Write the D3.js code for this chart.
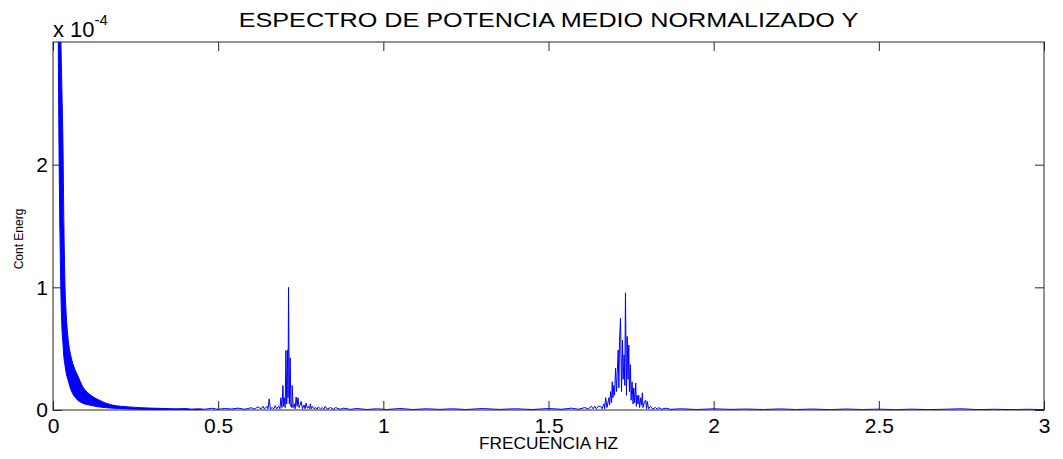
<!DOCTYPE html>
<html>
<head>
<meta charset="utf-8">
<script src="https://cdn.jsdelivr.net/npm/d3@7"></script>
<style>
  html, body { margin: 0; padding: 0; background: #fff; }
  svg { display: block; font-family: "Liberation Sans", Arial, sans-serif; }
</style>
</head>
<body>
<svg id="chart" width="1063" height="459"></svg>
<script>
// Power values are in units of 1e-4 (see the axis multiplier).

// Low-frequency decay: the spectrum oscillates densely between these two envelopes.
const decayFreq  = [0.016, 0.018, 0.021, 0.024, 0.027, 0.030, 0.033, 0.036, 0.040, 0.045, 0.055, 0.065, 0.075, 0.090, 0.110, 0.140, 0.180, 0.230, 0.290, 0.360, 0.450];
const decayUpper = [4.5, 4.0, 3.5, 3.0, 2.6, 2.2, 1.5, 1.05, 0.78, 0.60, 0.43, 0.34, 0.28, 0.19, 0.13, 0.08, 0.04, 0.025, 0.016, 0.010, 0.004];
const decayLower = [3.0, 2.2, 1.47, 0.95, 0.67, 0.55, 0.43, 0.37, 0.30, 0.25, 0.16, 0.11, 0.08, 0.055, 0.04, 0.025, 0.015, 0.008, 0.004, 0.002, 0.001];

// Spectrum beyond the decay: frequency (Hz) and power.
const freqHz = [
  0.30, 0.32, 0.34, 0.36, 0.38, 0.40, 0.42, 0.44, 0.46, 0.48, 0.50, 0.52, 0.54, 0.56, 0.58, 0.60, 0.61, 0.62, 0.63, 0.636,
  0.640, 0.6476, 0.651, 0.6545, 0.658, 0.664, 0.668, 0.6727, 0.677, 0.683, 0.687, 0.690, 0.693, 0.696, 0.698, 0.700,
  0.703, 0.705, 0.7075, 0.710, 0.7115, 0.713, 0.7155, 0.718, 0.720, 0.722, 0.723, 0.724, 0.727, 0.731, 0.733, 0.736,
  0.739, 0.7415, 0.745, 0.748, 0.7515, 0.755, 0.760, 0.763, 0.766, 0.770, 0.774, 0.777, 0.779, 0.782, 0.785, 0.790,
  0.795, 0.800, 0.803, 0.810, 0.815, 0.820, 0.824, 0.830, 0.840, 0.850, 0.855, 0.870, 0.880, 0.900, 0.920, 0.950,
  0.980, 1.010, 1.050, 1.090, 1.130, 1.170, 1.210, 1.250, 1.300, 1.350, 1.400, 1.450, 1.500, 1.540, 1.570, 1.590,
  1.610, 1.620, 1.630, 1.635, 1.640, 1.645, 1.650, 1.658, 1.662, 1.668, 1.670, 1.673, 1.677, 1.683, 1.685, 1.688,
  1.691, 1.693, 1.695, 1.698, 1.700, 1.703, 1.706, 1.708, 1.711, 1.713, 1.715, 1.718, 1.721, 1.724, 1.726, 1.729,
  1.731, 1.733, 1.736, 1.738, 1.741, 1.743, 1.745, 1.748, 1.750, 1.753, 1.756, 1.758, 1.761, 1.764, 1.766, 1.768,
  1.771, 1.773, 1.776, 1.779, 1.782, 1.784, 1.786, 1.790, 1.794, 1.797, 1.799, 1.803, 1.809, 1.815, 1.824, 1.830,
  1.833, 1.842, 1.855, 1.870, 1.900, 1.950, 2.000, 2.050, 2.100, 2.150, 2.200, 2.250, 2.300, 2.350, 2.400, 2.450,
  2.500, 2.550, 2.600, 2.650, 2.700, 2.750, 2.800, 2.850, 2.900, 2.950, 3.000
];
const power = [
  0.012, 0.006, 0.010, 0.004, 0.008, 0.012, 0.005, 0.010, 0.006, 0.014, 0.006, 0.012, 0.008, 0.015, 0.006, 0.018, 0.008, 0.025, 0.010, 0.030,
  0.008, 0.030, 0.010, 0.090, 0.010, 0.020, 0.008, 0.035, 0.010, 0.030, 0.010, 0.100, 0.020, 0.200, 0.030, 0.100,
  0.020, 0.485, 0.050, 0.490, 0.100, 1.000, 0.050, 0.425, 0.030, 0.050, 0.020, 0.200, 0.020, 0.050, 0.010, 0.105,
  0.030, 0.100, 0.020, 0.040, 0.070, 0.010, 0.040, 0.010, 0.055, 0.015, 0.030, 0.010, 0.050, 0.010, 0.030, 0.010,
  0.020, 0.008, 0.025, 0.008, 0.020, 0.006, 0.030, 0.008, 0.020, 0.005, 0.020, 0.006, 0.015, 0.005, 0.012, 0.004,
  0.010, 0.004, 0.012, 0.004, 0.010, 0.005, 0.010, 0.004, 0.012, 0.005, 0.010, 0.004, 0.012, 0.006, 0.015, 0.006,
  0.020, 0.008, 0.030, 0.010, 0.030, 0.010, 0.030, 0.030, 0.010, 0.050, 0.010, 0.100, 0.020, 0.100, 0.040, 0.150,
  0.060, 0.230, 0.100, 0.200, 0.120, 0.340, 0.150, 0.300, 0.490, 0.180, 0.560, 0.750, 0.150, 0.570, 0.250, 0.450,
  0.200, 0.955, 0.120, 0.600, 0.250, 0.530, 0.150, 0.370, 0.080, 0.230, 0.050, 0.180, 0.060, 0.220, 0.030, 0.120,
  0.050, 0.120, 0.020, 0.100, 0.040, 0.140, 0.020, 0.060, 0.080, 0.010, 0.070, 0.010, 0.030, 0.008, 0.020, 0.006,
  0.020, 0.006, 0.015, 0.005, 0.010, 0.004, 0.010, 0.005, 0.008, 0.004, 0.009, 0.004, 0.008, 0.003, 0.008, 0.004,
  0.007, 0.003, 0.007, 0.003, 0.006, 0.010, 0.003, 0.006, 0.003, 0.006, 0.003
];

// Axis ticks and labels.
const xTickValues = [0, 0.5, 1, 1.5, 2, 2.5, 3];
const xTickLabels = ["0", "0.5", "1", "1.5", "2", "2.5", "3"];
const yTickValues = [0, 1, 2];
const yTickLabels = ["0", "1", "2"];

const plot = { left: 53, right: 1044, top: 42, bottom: 410 };
const blue = "#0000ff";
const axisColor = "#262626";

const svg = d3.select("#chart");
const x = d3.scaleLinear().domain([0, 3]).range([plot.left, plot.right]);
const y = d3.scaleLinear().domain([0, 3]).range([plot.bottom, plot.top]);

svg.append("defs").append("clipPath").attr("id", "plot-clip")
  .append("rect")
  .attr("x", plot.left).attr("y", plot.top)
  .attr("width", plot.right - plot.left).attr("height", plot.bottom - plot.top);

const data = svg.append("g").attr("clip-path", "url(#plot-clip)");

// Dense low-frequency band
const decay = decayFreq.map((f, i) => ({ f, hi: decayUpper[i], lo: decayLower[i] }));
data.append("path")
  .datum(decay)
  .attr("fill", blue)
  .attr("stroke", blue)
  .attr("stroke-width", 1)
  .attr("d", d3.area()
    .x(d => x(d.f))
    .y0(d => y(d.lo))
    .y1(d => y(d.hi))
    .curve(d3.curveMonotoneX));

// Remaining spectrum line
const spectrum = freqHz.map((f, i) => ({ f, v: power[i] }));
data.append("path")
  .datum(spectrum)
  .attr("fill", "none")
  .attr("stroke", blue)
  .attr("stroke-width", 1)
  .attr("d", d3.line().x(d => x(d.f)).y(d => y(d.v)));

// Axes: ticks point inward on all four sides, labels only bottom and left
function styleAxis(g) {
  g.select(".domain").remove();
  g.selectAll(".tick line").attr("stroke", axisColor);
  g.selectAll(".tick text").attr("fill", "#000")
    .style("font-family", "'Liberation Sans', Arial, sans-serif")
    .style("font-size", "21px");
}

svg.append("g")
  .attr("transform", `translate(0,${plot.bottom})`)
  .call(d3.axisBottom(x).tickValues(xTickValues)
    .tickFormat((d, i) => xTickLabels[i]).tickSizeInner(-9).tickSizeOuter(0).tickPadding(8))
  .call(styleAxis);

svg.append("g")
  .attr("transform", `translate(0,${plot.top})`)
  .call(d3.axisTop(x).tickValues(xTickValues).tickFormat("").tickSizeInner(-9).tickSizeOuter(0))
  .call(styleAxis);

svg.append("g")
  .attr("transform", `translate(${plot.left},0)`)
  .call(d3.axisLeft(y).tickValues(yTickValues)
    .tickFormat((d, i) => yTickLabels[i]).tickSizeInner(-9).tickSizeOuter(0).tickPadding(5))
  .call(styleAxis);

svg.append("g")
  .attr("transform", `translate(${plot.right},0)`)
  .call(d3.axisRight(y).tickValues(yTickValues).tickFormat("").tickSizeInner(-9).tickSizeOuter(0))
  .call(styleAxis);

// Plot box
svg.append("rect")
  .attr("x", plot.left).attr("y", plot.top)
  .attr("width", plot.right - plot.left).attr("height", plot.bottom - plot.top)
  .attr("fill", "none").attr("stroke", axisColor).attr("stroke-width", 1);

// Exponent multiplier above the y axis
const mult = svg.append("text")
  .attr("x", plot.left).attr("y", 37)
  .style("font-size", "22px").attr("fill", "#000");
mult.append("tspan").text("x 10");
mult.append("tspan").attr("dy", -12).style("font-size", "15px").text("-4");

// Title (set slightly wide) and axis labels
svg.append("text")
  .attr("transform", `translate(${(plot.left + plot.right) / 2},27) scale(1.2,1)`)
  .attr("text-anchor", "middle")
  .style("font-size", "21px").attr("fill", "#000")
  .text("ESPECTRO DE POTENCIA MEDIO NORMALIZADO Y");

svg.append("text")
  .attr("transform", `translate(${(plot.left + plot.right) / 2},449) scale(1.08,1)`)
  .attr("text-anchor", "middle")
  .style("font-size", "16px").attr("fill", "#000")
  .text("FRECUENCIA HZ");

svg.append("text")
  .attr("transform", "translate(23,239) rotate(-90)")
  .attr("text-anchor", "middle")
  .style("font-size", "12px").attr("fill", "#000")
  .text("Cont Energ");
</script>
</body>
</html>
